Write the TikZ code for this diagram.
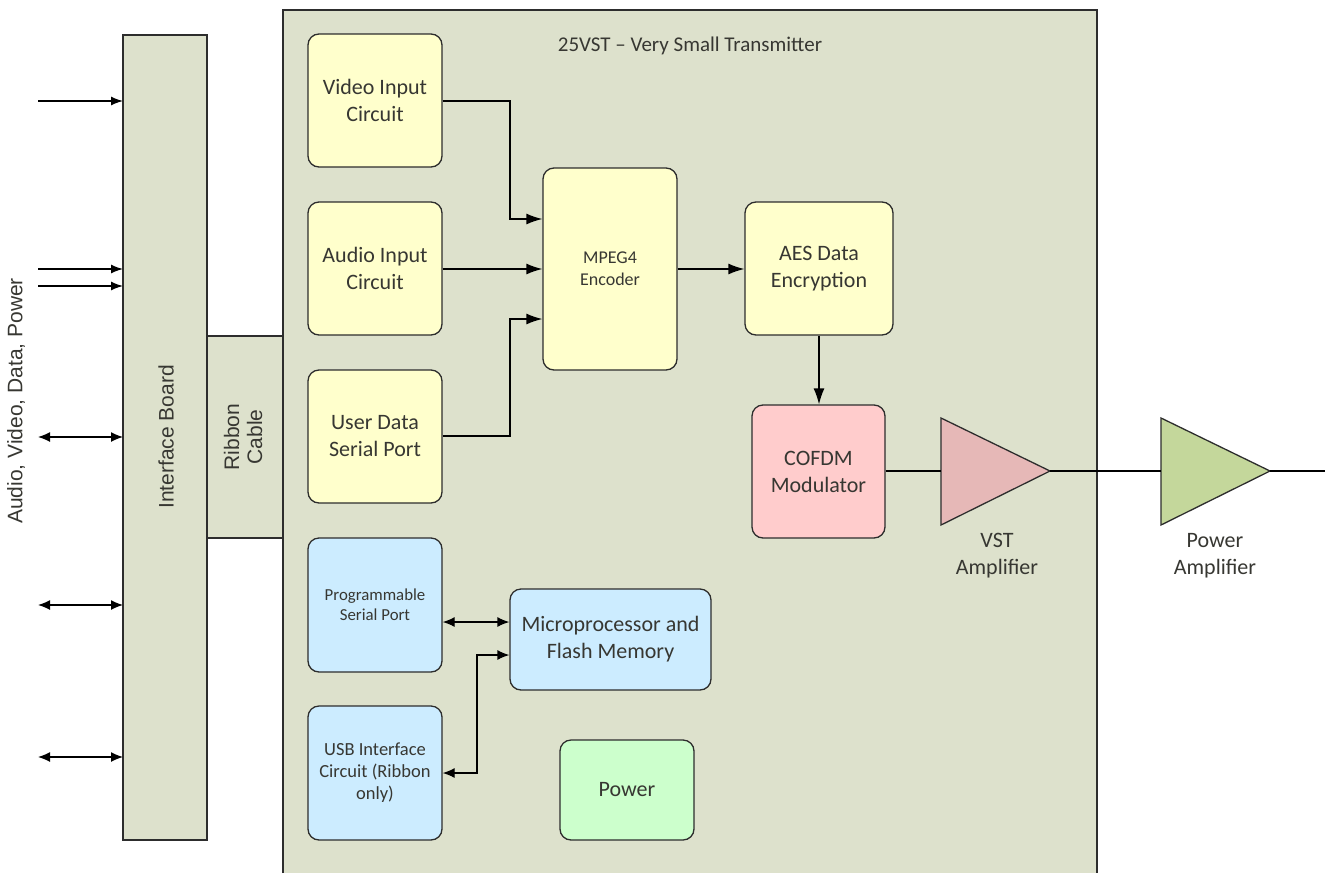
\documentclass[tikz,border=0pt]{standalone}
\usepackage{fontspec}
\setmainfont{Carlito}
\newfontfamily\arialf{Liberation Sans}
\usetikzlibrary{arrows.meta}
\definecolor{bgg}{RGB}{221,225,204}
\definecolor{yel}{RGB}{255,255,204}
\definecolor{pnk}{RGB}{255,204,204}
\definecolor{blu}{RGB}{204,236,255}
\definecolor{grn}{RGB}{204,255,204}
\definecolor{vstc}{RGB}{230,184,183}
\definecolor{pac}{RGB}{196,215,155}
\definecolor{edge}{RGB}{45,45,45}
\definecolor{txt}{RGB}{55,55,50}
\tikzset{
  blk/.style={draw=edge,line width=1.3pt,rounded corners=11pt,inner sep=2pt,align=center,text=txt,font=\fontsize{22}{27}\selectfont},
  conn/.style={draw=black,line width=1.3pt,-{Latex[length=16pt,width=11pt]}},
  lconn/.style={draw=black,line width=1.3pt,-{Latex[length=12pt,width=9pt]}},
  dconn/.style={draw=black,line width=1.3pt,{Latex[length=12pt,width=10pt]}-{Latex[length=12pt,width=10pt]}},
  plain/.style={draw=black,line width=1.3pt},
  panel/.style={draw=edge,line width=1.3pt,fill=bgg},
  atext/.style={text=txt,font=\arialf\fontsize{21}{23}\selectfont},
}
\begin{document}
\begin{tikzpicture}[x=1pt,y=-1pt]
\useasboundingbox (0,0) rectangle (1325,873);
% main panel
\fill[bgg] (283,10) rectangle (1097,873);
\draw[edge,line width=1.3pt] (283,873) -- (283,10) -- (1097,10) -- (1097,873);
\node[text=txt,font=\fontsize{21}{25}\selectfont] (title) at (690,46) {25VST -- Very Small Transmitter};
% interface board and ribbon
\node[panel,minimum width=84,minimum height=805,inner sep=0] (ib) at (165,437.5) {};
\node[rotate=90,atext] (ibt) at (166,437) {Interface Board};
\node[panel,minimum width=76,minimum height=202,inner sep=0] (rc) at (245,437) {};
\node[rotate=90,align=center,atext] (rct) at (243,437) {Ribbon\\Cable};
\node[rotate=90,atext] (lbl) at (16,401) {Audio, Video, Data, Power};
% left arrows
\coordinate (l1) at (38,101); \coordinate (r1) at (123,101);
\coordinate (l2) at (38,269); \coordinate (r2) at (123,269);
\coordinate (l3) at (38,286); \coordinate (r3) at (123,286);
\coordinate (l4) at (38,437); \coordinate (r4) at (123,437);
\coordinate (l5) at (38,605); \coordinate (r5) at (123,605);
\coordinate (l6) at (38,757); \coordinate (r6) at (123,757);
\draw[lconn] (l1) -- (r1);
\draw[lconn] (l2) -- (r2);
\draw[lconn] (l3) -- (r3);
\draw[dconn] (l4) -- (r4);
\draw[dconn] (l5) -- (r5);
\draw[dconn] (l6) -- (r6);
% blocks
\node[blk,fill=yel,minimum width=134,minimum height=133] (vid) at (375,100.5) {Video Input\\Circuit};
\node[blk,fill=yel,minimum width=134,minimum height=133] (aud) at (375,268.5) {Audio Input\\Circuit};
\node[blk,fill=yel,minimum width=134,minimum height=133] (usr) at (375,436.5) {User Data\\Serial Port};
\node[blk,fill=yel,minimum width=134,minimum height=202,font=\fontsize{18}{22}\selectfont] (mpeg) at (610,269) {MPEG4\\Encoder};
\node[blk,fill=yel,minimum width=148,minimum height=133] (aes) at (819,268.5) {AES Data\\Encryption};
\node[blk,fill=pnk,minimum width=133,minimum height=133] (cof) at (818.5,471.5) {COFDM\\Modulator};
\node[blk,fill=blu,minimum width=134,minimum height=134,font=\fontsize{16.8}{20}\selectfont] (pss) at (375,605) {Programmable\\Serial Port};
\node[blk,fill=blu,minimum width=201,minimum height=101] (mic) at (610.5,639.5) {Microprocessor and\\Flash Memory};
\node[blk,fill=blu,minimum width=134,minimum height=134,font=\fontsize{18.5}{22}\selectfont] (usb) at (375,773) {USB Interface\\Circuit (Ribbon\\only)};
\node[blk,fill=grn,minimum width=134,minimum height=100] (pwr) at (627,790) {Power};
% amplifiers
\coordinate (vin) at (941,471); \coordinate (vout) at (1050,471);
\coordinate (pin) at (1161,471); \coordinate (pout) at (1270,471);
\coordinate (rend) at (1325,471);
\draw[edge,line width=1.3pt,fill=vstc,line join=miter] (941,418) -- (1050,471) -- (941,525) -- cycle;
\draw[edge,line width=1.3pt,fill=pac,line join=miter] (1161,418) -- (1270,471) -- (1161,525) -- cycle;
\node[align=center,text=txt,font=\fontsize{22}{27}\selectfont] (vstl) at (997,556) {VST\\Amplifier};
\node[align=center,text=txt,font=\fontsize{22}{27}\selectfont] (pal) at (1215,556) {Power\\Amplifier};
% connectors
\draw[conn] (vid.east |- 0,101) -| (510,219) -- (mpeg.west |- 0,219);
\draw[conn] (aud.east |- 0,269) -- (mpeg.west |- 0,269);
\draw[conn] (usr.east |- 0,436) -| (510,319) -- (mpeg.west |- 0,319);
\draw[conn] (mpeg.east |- 0,269) -- (aes.west |- 0,269);
\draw[conn] (aes.south) -- (cof.north -| aes.south);
\draw[plain] (cof.east |- vin) -- (vin);
\draw[plain] (vout) -- (pin);
\draw[plain] (pout) -- (rend);
\draw[dconn] (pss.east |- 0,622) -- (mic.west |- 0,622);
\draw[dconn] (usb.east |- 0,773) -| (477,655) -- (mic.west |- 0,655);
\end{tikzpicture}
\end{document}
